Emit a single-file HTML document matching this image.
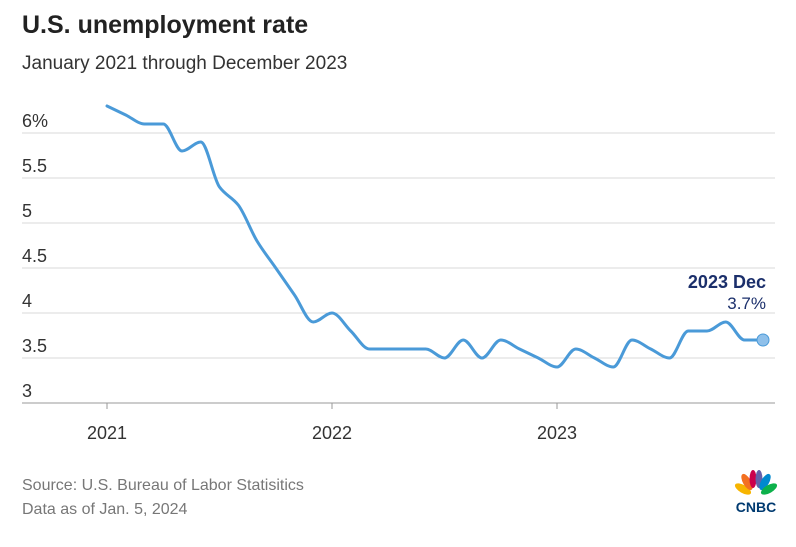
<!DOCTYPE html>
<html><head><meta charset="utf-8"><style>
body{margin:0;background:#fff;width:796px;height:542px;overflow:hidden;font-family:"Liberation Sans",sans-serif}
</style></head><body>
<svg width="796" height="542" xmlns="http://www.w3.org/2000/svg" font-family="Liberation Sans, sans-serif">
<text x="22" y="33" font-size="25" font-weight="bold" fill="#222">U.S. unemployment rate</text>
<text x="22" y="69" font-size="19" fill="#333">January 2021 through December 2023</text>
<g stroke="#d9d9d9" stroke-width="1">
<line x1="22" x2="775" y1="133" y2="133"/><line x1="22" x2="775" y1="178" y2="178"/>
<line x1="22" x2="775" y1="223" y2="223"/><line x1="22" x2="775" y1="268" y2="268"/>
<line x1="22" x2="775" y1="313" y2="313"/><line x1="22" x2="775" y1="358" y2="358"/>
</g>
<line x1="22" x2="775" y1="403" y2="403" stroke="#999"/>
<g stroke="#999"><line x1="107" x2="107" y1="403" y2="409"/><line x1="332" x2="332" y1="403" y2="409"/><line x1="557" x2="557" y1="403" y2="409"/></g>
<g font-size="18" fill="#333">
<text x="22" y="127">6%</text><text x="22" y="172">5.5</text><text x="22" y="217">5</text>
<text x="22" y="262">4.5</text><text x="22" y="307">4</text><text x="22" y="352">3.5</text><text x="22" y="397">3</text>
</g>
<g font-size="18" fill="#333" text-anchor="middle">
<text x="107" y="439">2021</text><text x="332" y="439">2022</text><text x="557" y="439">2023</text>
</g>
<path id="ln" fill="none" stroke="#4a9ad8" stroke-width="3" stroke-linejoin="round" stroke-linecap="round"/>
<circle cx="763" cy="340" r="6" fill="#8fc0ea" stroke="#4a9ad8" stroke-width="1"/>
<text x="766" y="288" font-size="18" font-weight="bold" fill="#1b2f6b" text-anchor="end">2023 Dec</text>
<text x="766" y="309" font-size="17" fill="#1b2f6b" text-anchor="end">3.7%</text>
<text x="22" y="490" font-size="16" fill="#777">Source: U.S. Bureau of Labor Statisitics</text>
<text x="22" y="514" font-size="16" fill="#777">Data as of Jan. 5, 2024</text>
<g transform="translate(755,492)">
<ellipse cx="-12" cy="-3" rx="4" ry="9" transform="rotate(-60 -12 -3)" fill="#f7b500"/>
<ellipse cx="-8" cy="-10" rx="4" ry="9" transform="rotate(-30 -8 -10)" fill="#f37021"/>
<ellipse cx="-2" cy="-13" rx="3.5" ry="9" fill="#cc004c"/>
<ellipse cx="4" cy="-13" rx="3.5" ry="9" fill="#6460aa"/>
<ellipse cx="10" cy="-10" rx="4" ry="9" transform="rotate(30 10 -10)" fill="#0089d0"/>
<ellipse cx="14" cy="-3" rx="4" ry="9" transform="rotate(60 14 -3)" fill="#0db14b"/>
<text x="1" y="20" font-size="14" font-weight="bold" fill="#003a70" text-anchor="middle">CNBC</text>
</g>
</svg>
<script>
var d=[6.3,6.2,6.1,6.1,5.8,5.9,5.4,5.2,4.8,4.5,4.2,3.9,4.0,3.8,3.6,3.6,3.6,3.6,3.5,3.7,3.5,3.7,3.6,3.5,3.4,3.6,3.5,3.4,3.7,3.6,3.5,3.8,3.8,3.9,3.7,3.7];
var n=d.length,h=18.75;
var x=d.map(function(v,i){return 107+i*h}),y=d.map(function(v){return 133+(6-v)*90});
var dl=[],m=[];
for(var i=0;i<n-1;i++)dl.push((y[i+1]-y[i])/h);
m[0]=dl[0];m[n-1]=dl[n-2];
for(var i=1;i<n-1;i++){if(dl[i-1]*dl[i]<=0)m[i]=0;else m[i]=2/(1/dl[i-1]+1/dl[i]);}
var s="M"+x[0]+","+y[0];
for(var i=0;i<n-1;i++){s+=" C"+(x[i]+h/3)+","+(y[i]+m[i]*h/3)+" "+(x[i+1]-h/3)+","+(y[i+1]-m[i+1]*h/3)+" "+x[i+1]+","+y[i+1];}
document.getElementById("ln").setAttribute("d",s);
</script>
</body></html>
